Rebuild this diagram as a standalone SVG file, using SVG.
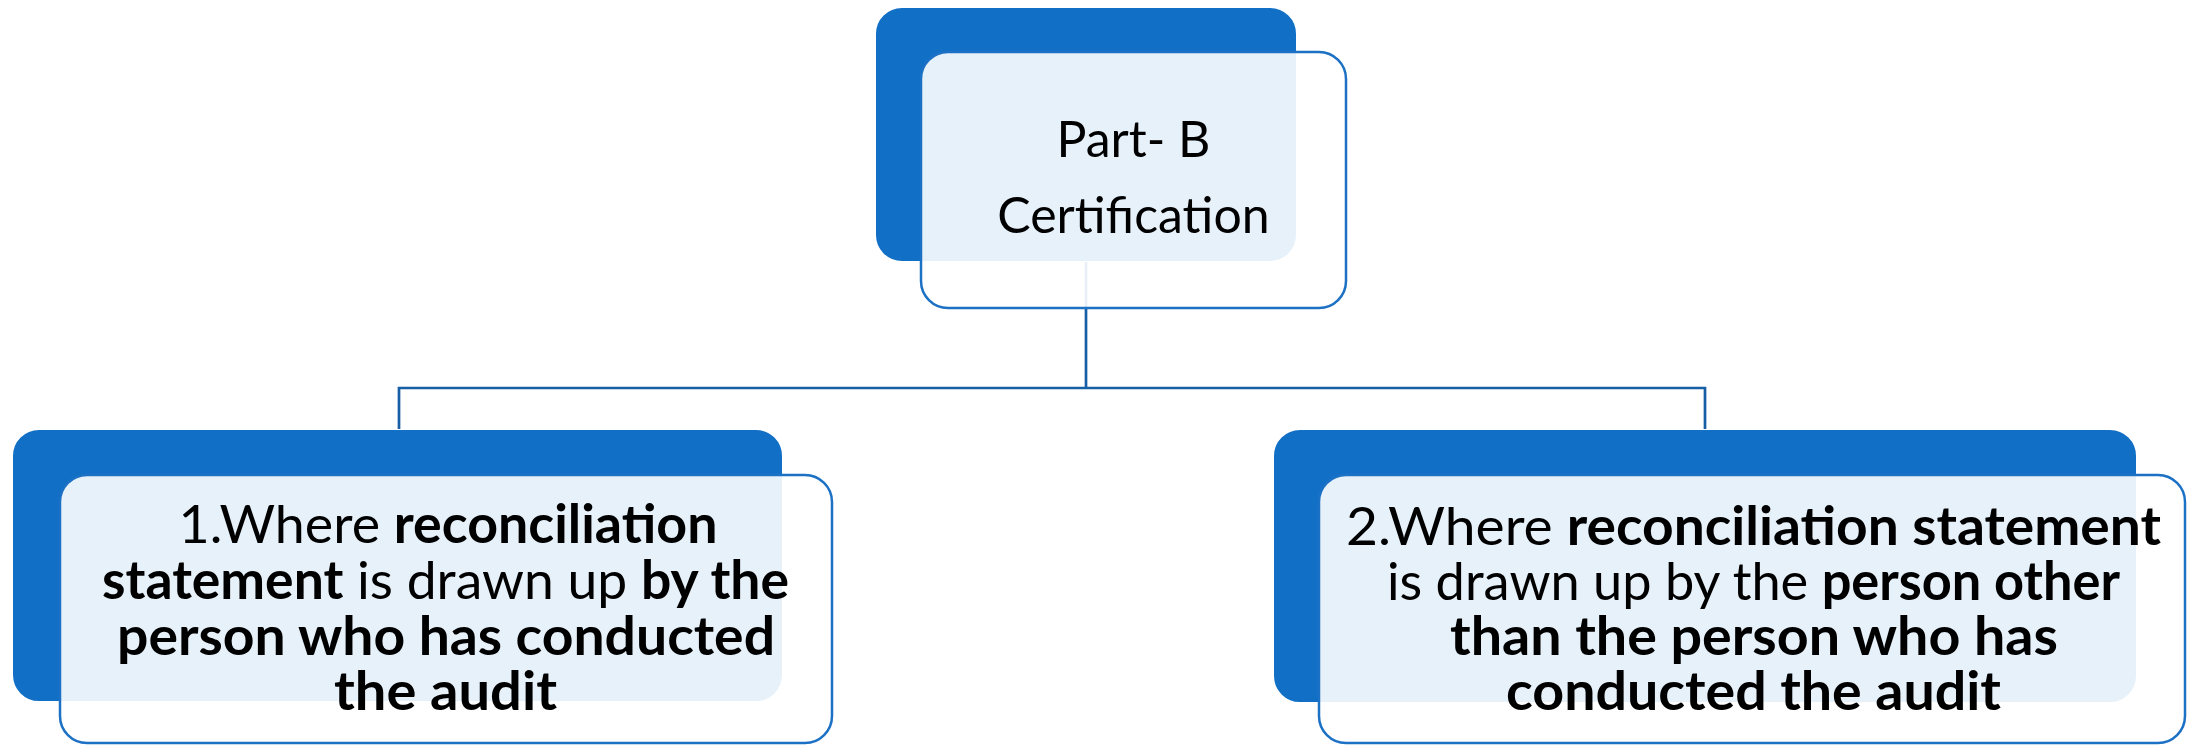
<svg xmlns="http://www.w3.org/2000/svg" width="2190" height="746" viewBox="0 0 2190 746">
<style>
.back{fill:#1170c6;stroke:#ffffff;stroke-width:2}
.front{fill:#ffffff;fill-opacity:0.9;stroke:#1c71c5;stroke-width:2.5}
.conn{fill:none;stroke:#165fa6;stroke-width:2.7}
.t{font-family:Lato,"Open Sans","DejaVu Sans",sans-serif;fill:#000000;text-anchor:middle}
.c{font-size:53px}
.b{font-weight:bold}
</style>
<rect width="2190" height="746" fill="#ffffff"/>
<g id="back-shapes">
<rect class="back" x="875" y="7" width="422" height="255" rx="27"/>
<rect class="back" x="12" y="429" width="771" height="273" rx="27"/>
<rect class="back" x="1273" y="429" width="864" height="274" rx="27"/>
</g>
<g id="connectors">
<path class="conn" d="M1086 262 V388 M399 388 H1705 M399 386.7 V429 M1705 386.7 V429"/>
</g>
<g id="node-top">
<rect class="front" x="921" y="52" width="425" height="256" rx="27"/>
<text class="t" x="1133.5" y="157" font-size="50">Part- B</text>
<text class="t" x="1133.5" y="233" font-size="50">Certification</text>
</g>
<g id="node-left">
<rect class="front" x="60" y="475" width="772" height="268" rx="27"/>
<text class="t c" x="448" y="543" textLength="539" lengthAdjust="spacingAndGlyphs">1.Where <tspan class="b">reconciliation</tspan></text>
<text class="t c" x="445.5" y="599" textLength="687" lengthAdjust="spacingAndGlyphs"><tspan class="b">statement</tspan> is drawn up <tspan class="b">by the</tspan></text>
<text class="t c b" x="446" y="655" textLength="658" lengthAdjust="spacingAndGlyphs">person who has conducted</text>
<text class="t c b" x="445.5" y="710" textLength="223" lengthAdjust="spacingAndGlyphs">the audit</text>
</g>
<g id="node-right">
<rect class="front" x="1319" y="475" width="866" height="268" rx="27"/>
<text class="t c" x="1753.5" y="545" textLength="815" lengthAdjust="spacingAndGlyphs">2.Where <tspan class="b">reconciliation statement</tspan></text>
<text class="t c" x="1753.5" y="600" textLength="733" lengthAdjust="spacingAndGlyphs">is drawn up by the <tspan class="b">person other</tspan></text>
<text class="t c b" x="1754" y="655" textLength="608" lengthAdjust="spacingAndGlyphs">than the person who has</text>
<text class="t c b" x="1753.5" y="710" textLength="495" lengthAdjust="spacingAndGlyphs">conducted the audit</text>
</g>
</svg>
